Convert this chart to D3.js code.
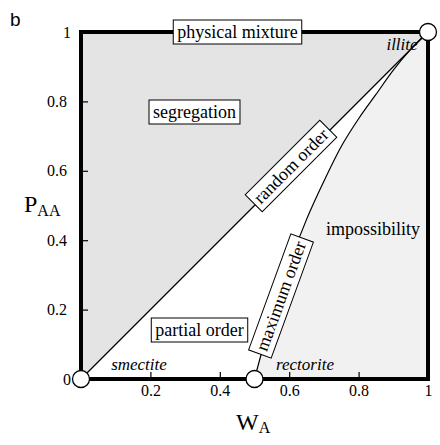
<!DOCTYPE html>
<html>
<head>
<meta charset="utf-8">
<script src="https://cdn.jsdelivr.net/npm/d3@7"></script>
<style>
  body { margin: 0; background: #fff; }
</style>
</head>
<body>
<div id="chart"></div>
<script>
// chart values
var tickValues = [0, 0.2, 0.4, 0.6, 0.8, 1];
var tickLabels = ["0", "0.2", "0.4", "0.6", "0.8", "1"];
// random order line (W_A, P_AA)
var randomOrder = [[0, 0], [1, 1]];
// maximum order curve
var maxOrder = [[0.5, 0], [0.55, 0.18], [0.6, 0.33], [0.65, 0.46], [0.7, 0.57],
  [0.75, 0.67], [0.8, 0.75], [0.85, 0.82], [0.9, 0.89], [0.95, 0.95], [1, 1]];
// end members
var members = [[0, 0], [0.5, 0], [1, 1]];

var serif = "'Liberation Serif'";

var svgWidth = 440;
var svgHeight = 445;

var svg = d3.select("#chart").append("svg")
  .attr("width", svgWidth)
  .attr("height", svgHeight);

var x = d3.scaleLinear().domain([0, 1]).range([81, 428]);
var y = d3.scaleLinear().domain([0, 1]).range([379, 32]);

var line = d3.line().x(d => x(d[0])).y(d => y(d[1]));
var curve = d3.line().x(d => x(d[0])).y(d => y(d[1])).curve(d3.curveMonotoneX);

// segregation region: above the random order line
svg.append("path")
  .attr("d", line([[0, 0], [0, 1], [1, 1]]) + "Z")
  .attr("fill", "#e4e4e4");

// impossibility region: below the maximum order curve
svg.append("path")
  .attr("d", curve(maxOrder) + "L" + x(1) + "," + y(0) + "Z")
  .attr("fill", "#f1f1f1");

svg.append("path")
  .attr("d", line(randomOrder))
  .attr("fill", "none")
  .attr("stroke", "#000")
  .attr("stroke-width", 1.2);

svg.append("path")
  .attr("d", curve(maxOrder))
  .attr("fill", "none")
  .attr("stroke", "#000")
  .attr("stroke-width", 1.2);

// axes
var leftAxis = d3.axisLeft(y)
  .tickValues(tickValues)
  .tickFormat((d, i) => tickLabels[i])
  .tickSize(-7)
  .tickPadding(14);

var gy = svg.append("g")
  .attr("transform", `translate(${x(0)},0)`)
  .call(leftAxis);
gy.select(".domain").remove();
gy.selectAll(".tick text")
  .style("font-family", serif)
  .attr("font-size", 16)
  .attr("fill", "#000")
  .attr("dx", d => (d === 0 || d === 1) ? 4 : 0);
gy.selectAll(".tick line").attr("stroke-width", 1.2);

var bottomAxis = d3.axisBottom(x)
  .tickValues(tickValues.slice(1))
  .tickFormat((d, i) => tickLabels[i + 1])
  .tickSize(-7)
  .tickPadding(6);

var gx = svg.append("g")
  .attr("transform", `translate(0,${y(0)})`)
  .call(bottomAxis);
gx.select(".domain").remove();
gx.selectAll(".tick text")
  .style("font-family", serif)
  .attr("font-size", 16)
  .attr("fill", "#000");
gx.selectAll(".tick line").attr("stroke-width", 1.2);

// thick frame
svg.append("rect")
  .attr("x", x(0))
  .attr("y", y(1))
  .attr("width", x(1) - x(0))
  .attr("height", y(0) - y(1))
  .attr("fill", "none")
  .attr("stroke", "#000")
  .attr("stroke-width", 4);

// end member circles
svg.selectAll(".member")
  .data(members)
  .enter()
  .append("circle")
  .attr("cx", d => x(d[0]))
  .attr("cy", d => y(d[1]))
  .attr("r", 8.5)
  .attr("fill", "#fff")
  .attr("stroke", "#000")
  .attr("stroke-width", 1.3);

// boxed labels
function boxLabel(txt, cx, cy, angle) {
  var g = svg.append("g")
    .attr("transform", `translate(${cx},${cy}) rotate(${angle})`);
  var t = g.append("text")
    .attr("text-anchor", "middle")
    .attr("dy", "0.33em")
    .style("font-family", serif)
    .attr("font-size", 18)
    .text(txt);
  var bb = t.node().getBBox();
  g.insert("rect", "text")
    .attr("x", bb.x - 4)
    .attr("y", -12)
    .attr("width", bb.width + 8)
    .attr("height", 24)
    .attr("fill", "#fff")
    .attr("stroke", "#000")
    .attr("stroke-width", 1);
}

boxLabel("physical mixture", 237.5, y(1), 0);
boxLabel("segregation", 194.5, 112, 0);
boxLabel("partial order", 199.5, 330, 0);
boxLabel("random order", 291, 166, -45);
boxLabel("maximum order", 281, 296, -70);

svg.append("text")
  .attr("x", 373)
  .attr("y", 235)
  .attr("text-anchor", "middle")
  .style("font-family", serif)
  .attr("font-size", 18)
  .text("impossibility");

// end member names
var italics = [["illite", 402, 50], ["smectite", 139, 370], ["rectorite", 305, 370]];
svg.selectAll(".member-name")
  .data(italics)
  .enter()
  .append("text")
  .attr("x", d => d[1])
  .attr("y", d => d[2])
  .attr("text-anchor", "middle")
  .style("font-family", serif)
  .attr("font-size", 17)
  .attr("font-style", "italic")
  .text(d => d[0]);

// axis titles
var yTitle = svg.append("text")
  .attr("x", 24)
  .attr("y", 212)
  .style("font-family", serif)
  .attr("font-size", 24);
yTitle.append("tspan").text("P");
yTitle.append("tspan").attr("font-size", 16).attr("dy", 4).text("AA");

var xTitle = svg.append("text")
  .attr("x", 236)
  .attr("y", 430)
  .style("font-family", serif)
  .attr("font-size", 24);
xTitle.append("tspan").text("W");
xTitle.append("tspan").attr("font-size", 16).attr("dy", 3).text("A");

// panel letter
svg.append("text")
  .attr("x", 10)
  .attr("y", 26)
  .style("font-family", "'Liberation Sans'")
  .attr("font-size", 19)
  .text("b");
</script>
</body>
</html>
